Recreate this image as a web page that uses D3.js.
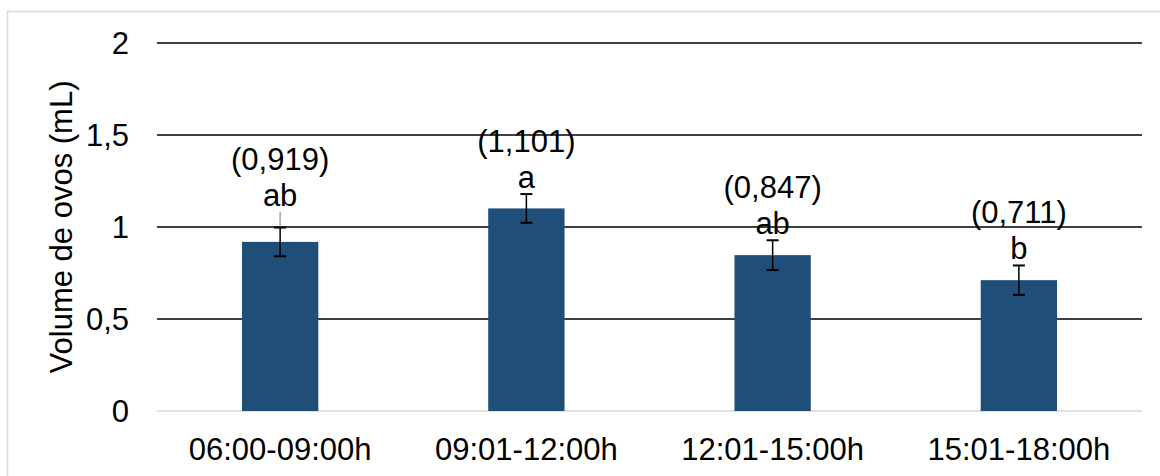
<!DOCTYPE html>
<html>
<head>
<meta charset="utf-8">
<script src="https://cdnjs.cloudflare.com/ajax/libs/d3/7.8.5/d3.min.js"></script>
<style>
  html, body { margin: 0; padding: 0; background: #fff; }
  svg text { font-family: "Liberation Sans", Arial, sans-serif; fill: #000; }
</style>
</head>
<body>
<div id="chart"></div>
<script>
// data
var categories = ["06:00-09:00h", "09:01-12:00h", "12:01-15:00h", "15:01-18:00h"];
var values = [0.919, 1.101, 0.847, 0.711];
var errors = [0.078, 0.078, 0.081, 0.08];
var errExtra = [0.086, 0, 0, 0];   // odd grey whisker above the first bar
var letters = ["ab", "a", "ab", "b"];
var valueLabels = ["(0,919)", "(1,101)", "(0,847)", "(0,711)"];
var yTicks = [0, 0.5, 1, 1.5, 2];
var yTickLabels = ["0", "0,5", "1", "1,5", "2"];

var W = 1160, H = 476;
// plot area (note: "top" is taken by window.top, so prefix these)
var plotLeft = 157, plotRight = 1142, plotTop = 43, plotBottom = 411;

var svg = d3.select("#chart").append("svg")
  .attr("width", W)
  .attr("height", H);

// outer frame
svg.append("rect")
  .attr("x", 7.5).attr("y", 11.5)
  .attr("width", W).attr("height", H)
  .attr("fill", "none")
  .attr("stroke", "#d9d9d9")
  .attr("stroke-width", 1.5);

var x = d3.scaleBand()
  .domain(categories)
  .range([plotLeft, plotRight])
  .paddingInner(0.69)
  .paddingOuter(0.345);

var y = d3.scaleLinear()
  .domain([0, 2])
  .range([plotBottom, plotTop]);

// gridlines
svg.append("g").selectAll("line")
  .data(yTicks)
  .enter().append("line")
  .attr("x1", plotLeft).attr("x2", plotRight)
  .attr("y1", function(d) { return y(d); })
  .attr("y2", function(d) { return y(d); })
  .attr("stroke", function(d) { return d === 0 ? "#d9d9d9" : "#000"; })
  .attr("stroke-width", 1.5);

// y tick labels
svg.append("g").selectAll("text")
  .data(yTicks)
  .enter().append("text")
  .attr("x", 129)
  .attr("y", function(d) { return y(d) + 11; })
  .attr("text-anchor", "end")
  .attr("font-size", 31)
  .text(function(d, i) { return yTickLabels[i]; });

// y title
svg.append("text")
  .attr("transform", "translate(72," + y(1) + ") rotate(-90)")
  .attr("text-anchor", "middle")
  .attr("font-size", 31)
  .text("Volume de ovos (mL)");

// bars
svg.append("g").selectAll("rect")
  .data(values)
  .enter().append("rect")
  .attr("x", function(d, i) { return x(categories[i]); })
  .attr("y", function(d) { return y(d); })
  .attr("width", x.bandwidth())
  .attr("height", function(d) { return y(0) - y(d); })
  .attr("fill", "#1f4e79");

// error bars
var eb = svg.append("g");
values.forEach(function(v, i) {
  var cx = x(categories[i]) + x.bandwidth() / 2;
  var hi = v + errors[i], lo = v - errors[i];
  if (errExtra[i] > 0) {
    eb.append("line")
      .attr("x1", cx).attr("x2", cx)
      .attr("y1", y(hi)).attr("y2", y(hi + errExtra[i]))
      .attr("stroke", "#a6a6a6").attr("stroke-width", 1.5);
  }
  eb.append("line")
    .attr("x1", cx).attr("x2", cx)
    .attr("y1", y(hi)).attr("y2", y(lo))
    .attr("stroke", "#000").attr("stroke-width", 1.5);
  [hi, lo].forEach(function(e) {
    eb.append("line")
      .attr("x1", cx - 6).attr("x2", cx + 6)
      .attr("y1", y(e)).attr("y2", y(e))
      .attr("stroke", "#000").attr("stroke-width", 2);
  });

  // labels above the whisker
  var base = y(v + errors[i] + errExtra[i]) - 6;
  svg.append("text")
    .attr("x", cx).attr("y", base)
    .attr("text-anchor", "middle")
    .attr("font-size", 31)
    .text(letters[i]);
  svg.append("text")
    .attr("x", cx).attr("y", base - 36)
    .attr("text-anchor", "middle")
    .attr("font-size", 31)
    .text(valueLabels[i]);
});

// x labels
svg.append("g").selectAll("text")
  .data(categories)
  .enter().append("text")
  .attr("x", function(d) { return x(d) + x.bandwidth() / 2; })
  .attr("y", 460)
  .attr("text-anchor", "middle")
  .attr("font-size", 31)
  .text(function(d) { return d; });
</script>
</body>
</html>
